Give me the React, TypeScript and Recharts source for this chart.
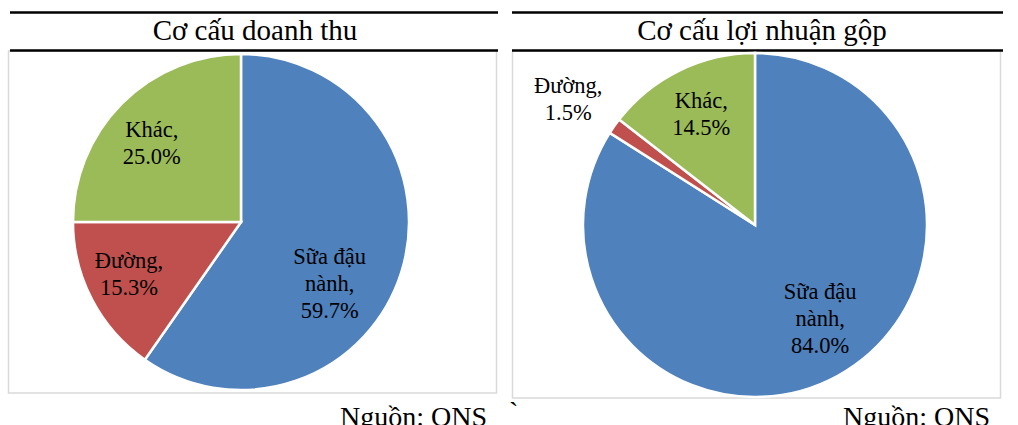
import { Cell, Pie, PieChart } from 'recharts'

const SLICES = ['Sữa đậu nành', 'Đường', 'Khác']
const REVENUE = [59.7, 15.3, 25.0]
const GROSS_PROFIT = [84.0, 1.5, 14.5]
const COLORS = ['#4F81BD', '#C0504D', '#9BBB59']
const TITLES = ['Cơ cấu doanh thu', 'Cơ cấu lợi nhuận gộp']
const SOURCE = 'Nguồn: ONS'

// label placement: [radius fraction, angle in degrees]
const LEFT_LABELS: Record<string, [number, number]> = {
  'Sữa đậu nành': [0.64, -34.4],
  'Đường': [0.735, 204.9],
  'Khác': [0.71, 138.4],
}
const RIGHT_LABELS: Record<string, [number, number]> = {
  'Sữa đậu nành': [0.66, -55],
  'Đường': [1.31, 146],
  'Khác': [0.72, 115.7],
}

const FONT = '"Liberation Serif", "Times New Roman", serif'
const RADIAN = Math.PI / 180
const LINE_H = 27

const toRows = (values: number[]) => SLICES.map((name, i) => ({ name, value: values[i] }))

function makeLabel(layout: Record<string, [number, number]>) {
  return (props: any) => {
    const { cx, cy, outerRadius, name, value } = props
    const [f, a] = layout[name]
    const x = cx + outerRadius * f * Math.cos(a * RADIAN)
    const y = cy - outerRadius * f * Math.sin(a * RADIAN)
    const pct = `${Number(value).toFixed(1)}%`
    const lines = name === 'Sữa đậu nành' ? ['Sữa đậu', 'nành,', pct] : [`${name},`, pct]
    const y0 = y - ((lines.length - 1) * LINE_H) / 2
    return (
      <text x={x} y={y0} textAnchor="middle" fontFamily={FONT} fontSize={22.5} fill="#000">
        {lines.map((t, i) => (
          <tspan key={i} x={x} y={y0 + i * LINE_H} dy="0.35em">
            {t}
          </tspan>
        ))}
      </text>
    )
  }
}

export default function App() {
  return (
    <div style={{ position: 'absolute', left: 0, top: 0, width: 1018, height: 425, background: '#fff', overflow: 'hidden' }}>
      <svg width={1018} height={425} style={{ position: 'absolute', left: 0, top: 0 }}>
        {/* panel frames */}
        <rect x={8.5} y={51} width={488} height={342} fill="none" stroke="#d9d9d9" strokeWidth={1.5} />
        <rect x={512.5} y={51} width={488} height={347} fill="none" stroke="#d9d9d9" strokeWidth={1.5} />
        {/* title rules */}
        <line x1={10} x2={498} y1={12.5} y2={12.5} stroke="#000" strokeWidth={2.5} />
        <line x1={10} x2={498} y1={50.5} y2={50.5} stroke="#000" strokeWidth={2.5} />
        <line x1={512} x2={1003} y1={12.5} y2={12.5} stroke="#000" strokeWidth={2.5} />
        <line x1={512} x2={1003} y1={50.5} y2={50.5} stroke="#000" strokeWidth={2.5} />
        <text x={255} y={40} textAnchor="middle" fontFamily={FONT} fontSize={29}>{TITLES[0]}</text>
        <text x={762} y={40} textAnchor="middle" fontFamily={FONT} fontSize={29}>{TITLES[1]}</text>
        <text x={340} y={426} fontFamily={FONT} fontSize={28}>{SOURCE}</text>
        <text x={843} y={426} fontFamily={FONT} fontSize={28}>{SOURCE}</text>
        <text x={509} y={421} fontFamily={FONT} fontSize={28}>`</text>
      </svg>
      <div style={{ position: 'absolute', left: 0, top: 0 }}>
        <PieChart width={1018} height={425} margin={{ top: 0, right: 0, bottom: 0, left: 0 }}>
          <Pie
            data={toRows(REVENUE)}
            dataKey="value"
            nameKey="name"
            cx={241}
            cy={222}
            outerRadius={168}
            startAngle={90}
            endAngle={-270}
            stroke="#fff"
            strokeWidth={2.5}
            label={makeLabel(LEFT_LABELS)}
            labelLine={false}
            isAnimationActive={false}
          >
            {SLICES.map((s, i) => (
              <Cell key={s} fill={COLORS[i]} />
            ))}
          </Pie>
          <Pie
            data={toRows(GROSS_PROFIT)}
            dataKey="value"
            nameKey="name"
            cx={755}
            cy={225}
            outerRadius={172}
            startAngle={90}
            endAngle={-270}
            stroke="#fff"
            strokeWidth={2.5}
            label={makeLabel(RIGHT_LABELS)}
            labelLine={false}
            isAnimationActive={false}
          >
            {SLICES.map((s, i) => (
              <Cell key={s} fill={COLORS[i]} />
            ))}
          </Pie>
        </PieChart>
      </div>
    </div>
  )
}
